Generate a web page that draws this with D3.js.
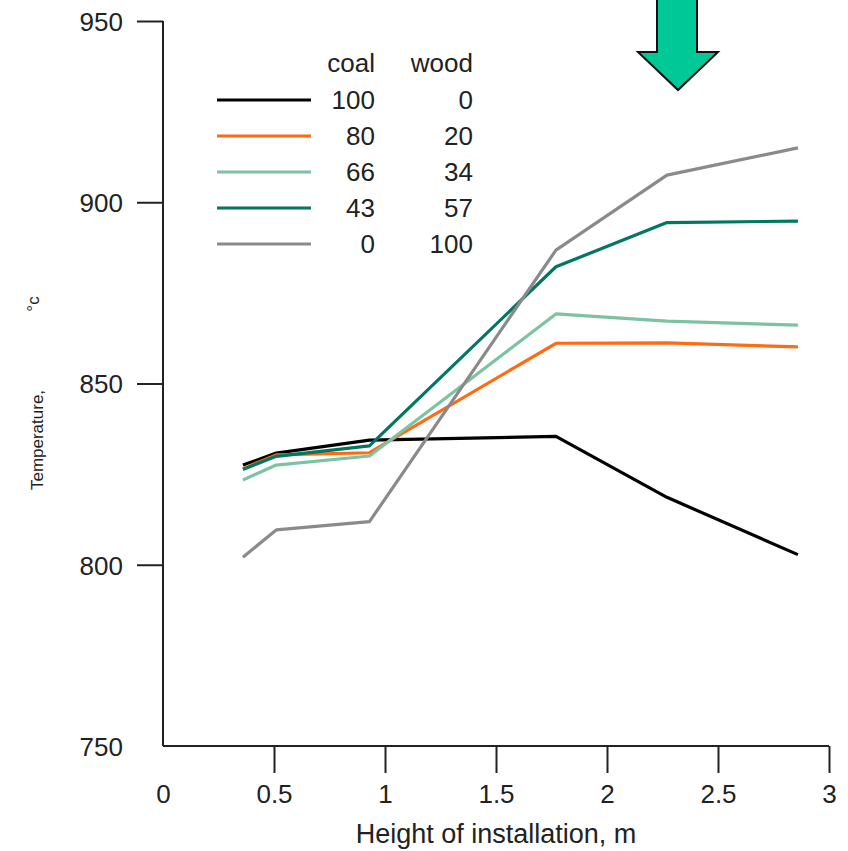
<!DOCTYPE html>
<html lang="en">
<head>
  <meta charset="UTF-8">
  <title>Temperature vs height - D3</title>
  <script src="https://d3js.org/d3.v7.min.js"></script>
  <style>
    body { margin: 0; background: #fff; }
    svg { display: block; font-family: "Liberation Sans", Arial, sans-serif; }
    .axis path, .axis line { stroke: #222; stroke-width: 2; }
    .axis text { font-size: 26px; fill: #222; }
    .legend text { font-size: 26px; fill: #222; }
    .series { fill: none; stroke-width: 3.2; stroke-linejoin: round; }
  </style>
</head>
<body>
<script>
  // heights (m) where temperatures were measured
  var heights = [0.36, 0.51, 0.93, 1.77, 2.27, 2.86];

  var coalShare = [100, 80, 66, 43, 0];
  var woodShare = [0, 20, 34, 57, 100];
  var colors = ["#000000", "#ff6a13", "#7cc3a3", "#00775f", "#8a8a8a"];

  var temp100_0 = [827.5, 830.8, 834.4, 835.4, 818.6, 802.8];
  var temp80_20 = [826.5, 830.3, 830.9, 861.1, 861.2, 860.1];
  var temp66_34 = [823.4, 827.5, 830.0, 869.2, 867.2, 866.1];
  var temp43_57 = [826.3, 829.9, 832.8, 882.2, 894.4, 894.8];
  var temp0_100 = [802.1, 809.6, 811.9, 886.8, 907.5, 915.0];

  var series = [temp100_0, temp80_20, temp66_34, temp43_57, temp0_100];

  var xTicks = [0, 0.5, 1, 1.5, 2, 2.5, 3];
  var yTicks = [750, 800, 850, 900, 950];

  var margin = { top: 21, right: 19, bottom: 105, left: 163 },
      W = 848, H = 851,
      width = W - margin.left - margin.right,
      height = H - margin.top - margin.bottom;

  var svg = d3.select("body").append("svg")
      .attr("width", W).attr("height", H);

  var g = svg.append("g")
      .attr("transform", `translate(${margin.left},${margin.top})`);

  var x = d3.scaleLinear().domain([0, 3]).range([0, width]);
  var y = d3.scaleLinear().domain([750, 950]).range([height, 0]);

  // Axe Y
  var yAxis = g.append("g")
      .attr("class", "axis")
      .call(d3.axisLeft(y).tickValues(yTicks).tickSize(26).tickSizeOuter(0).tickPadding(14)
            .tickFormat(d3.format("d")));
  yAxis.selectAll(".tick").filter(d => d === 750).select("line").remove();
  yAxis.selectAll(".tick text").attr("dy", "0.36em");

  // Axe X
  var xAxis = g.append("g")
      .attr("class", "axis")
      .attr("transform", `translate(0,${height})`)
      .call(d3.axisBottom(x).tickValues(xTicks).tickSize(27).tickSizeOuter(0).tickPadding(12)
            .tickFormat(d => d));
  xAxis.selectAll(".tick").filter(d => d === 0).select("line").remove();
  xAxis.select(".domain").attr("d", `M0,0H${width}`);
  yAxis.select(".domain").attr("d", `M0,0V${height}`);

  // Titres des axes
  svg.append("text")
      .attr("x", margin.left + x(1.5))
      .attr("y", 843)
      .attr("text-anchor", "middle")
      .style("font-size", "27px")
      .style("fill", "#222")
      .text("Height of installation, m");

  svg.append("text")
      .attr("transform", "translate(43,440) rotate(-90)")
      .attr("text-anchor", "middle")
      .style("font-size", "17px")
      .style("fill", "#222")
      .text("Temperature,");

  svg.append("text")
      .attr("transform", "translate(39,304) rotate(-90)")
      .attr("text-anchor", "middle")
      .style("font-size", "17px")
      .style("fill", "#222")
      .text("°c");

  // Courbes
  var line = d3.line()
      .x((d, i) => x(heights[i]))
      .y(d => y(d));

  g.selectAll(".series")
    .data(series)
    .enter()
    .append("path")
    .attr("class", "series")
    .attr("stroke", (d, i) => colors[i])
    .attr("d", line);

  // Légende
  var legend = svg.append("g").attr("class", "legend");
  legend.append("text").attr("x", 375).attr("y", 72).attr("text-anchor", "end").text("coal");
  legend.append("text").attr("x", 473).attr("y", 72).attr("text-anchor", "end").text("wood");

  var rows = legend.selectAll(".row")
      .data(coalShare)
      .enter()
      .append("g")
      .attr("class", "row")
      .attr("transform", (d, i) => `translate(0,${100 + i * 36})`);

  rows.append("line")
      .attr("x1", 217).attr("x2", 311)
      .attr("stroke", (d, i) => colors[i])
      .attr("stroke-width", 3.2);
  rows.append("text")
      .attr("x", 375).attr("dy", "0.36em")
      .attr("text-anchor", "end")
      .text(d => d);
  rows.append("text")
      .attr("x", 473).attr("dy", "0.36em")
      .attr("text-anchor", "end")
      .text((d, i) => woodShare[i]);

  // Flèche
  svg.append("path")
      .attr("d", "M657,-2 L697,-2 L697,52 L718,52 L678,90 L638,52 L657,52 Z")
      .attr("fill", "#00c896")
      .attr("stroke", "#111")
      .attr("stroke-width", 2)
      .attr("stroke-linejoin", "miter");
</script>
</body>
</html>
